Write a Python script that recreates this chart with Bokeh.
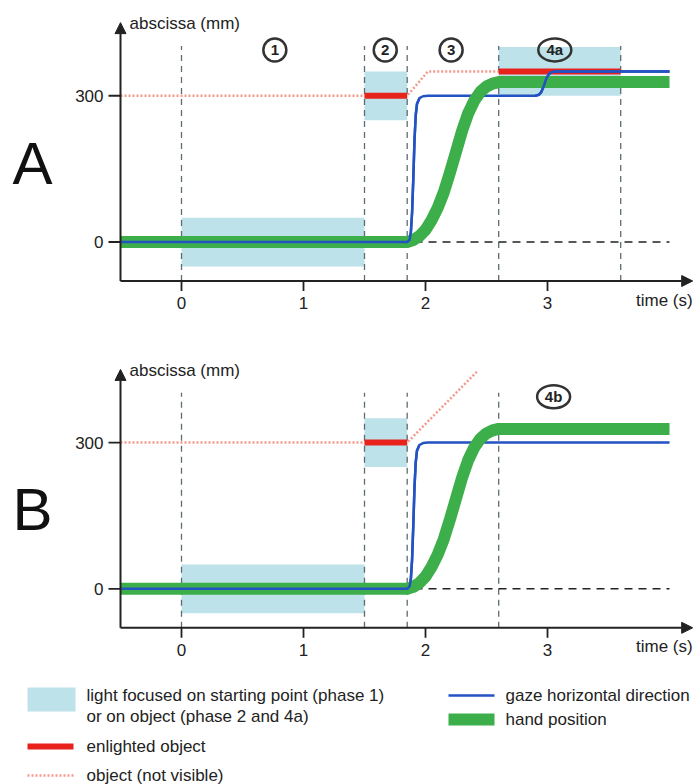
import numpy as np
from bokeh.plotting import figure
from bokeh.models import Range1d, Arrow, NormalHead
from bokeh.layouts import column
from bokeh.embed import file_html
from bokeh.resources import INLINE
from bokeh.core.properties import value

# ---------------- data ----------------
time_ticks = [0, 1, 2, 3]
time_tick_labels = ["0", "1", "2", "3"]
abscissa_ticks = [0, 300]
abscissa_tick_labels = ["0", "300"]

phase_lines_A = [0, 1.5, 1.85, 2.6, 3.6]
phase_lines_B = [0, 1.5, 1.85, 2.6]

light_left_A = [0, 1.5, 2.6]
light_right_A = [1.5, 1.85, 3.6]
light_bottom_A = [-50, 250, 300]
light_top_A = [50, 350, 400]
light_left_B = [0, 1.5]
light_right_B = [1.5, 1.85]
light_bottom_B = [-50, 250]
light_top_B = [50, 350]

lit_start_A = [1.5, 2.6]
lit_end_A = [1.85, 3.6]
lit_level_A = [300, 350]
lit_start_B = [1.5]
lit_end_B = [1.85]
lit_level_B = [300]

object_t_A = [-0.5, 1.85, 2.02, 4.0]
object_y_A = [300, 300, 350, 350]
object_t_B = [-0.5, 1.85, 2.42]
object_y_B = [300, 300, 445]

gaze_t_A = [-0.5, 1.85, 1.87, 1.88, 1.89, 1.90, 1.91, 1.92, 1.93, 1.95, 1.98, 2.02,
            2.90, 2.93, 2.95, 2.97, 2.99, 3.01, 3.03, 3.06, 4.0]
gaze_y_A = [0, 0, 5, 20, 60, 130, 210, 260, 283, 295, 299, 300,
            300, 302, 308, 320, 335, 344, 348, 350, 350]
gaze_t_B = [-0.5, 1.85, 1.87, 1.88, 1.89, 1.90, 1.91, 1.92, 1.93, 1.95, 1.98, 2.02, 4.0]
gaze_y_B = [0, 0, 5, 20, 60, 130, 210, 260, 283, 295, 299, 300, 300]

hand_t_A = [-0.5, 1.85, 1.90, 1.95, 2.00, 2.05, 2.10, 2.15, 2.20, 2.25, 2.30, 2.35,
            2.40, 2.45, 2.50, 2.55, 2.60, 4.0]
hand_y_A = [0, 0, 4, 12, 25, 45, 70, 102, 142, 185, 228, 264, 290, 308, 319, 325, 328, 328]
hand_t_B = [-0.5, 1.85, 1.90, 1.95, 2.00, 2.05, 2.10, 2.15, 2.20, 2.25, 2.30, 2.35,
            2.40, 2.45, 2.50, 2.55, 2.60, 4.0]
hand_y_B = [0, 0, 4, 12, 25, 45, 70, 102, 142, 185, 228, 264, 290, 308, 319, 325, 328, 328]

phase_labels_A = ["1", "2", "3", "4a"]
phase_label_t_A = [0.765, 1.67, 2.21, 3.06]
phase_labels_B = ["4b"]
phase_label_t_B = [3.05]

# ---------------- layout constants ----------------
W = 694
H_A = 338
H_B = 330
H_LEG = 116
PX_S = 122.0      # pixels per second
PX_MM = 0.4875    # pixels per mm
X0_PX = 181.0     # x pixel of t = 0
FONT = value("Liberation Sans")
TXT = "#222222"

T_MIN = -0.5
AXIS_Y = -80
T_END_AXIS = 4.19
Y_END_AXIS = 450
LABEL_Y = 394
DASH_TOP = 402
LETTER_Y = 162

C_LIGHT = "#bde2ea"
C_RED = "#e8231c"
C_OBJ = "#f4998a"
C_BLUE = "#2352c2"
C_GREEN = "#3caf4a"
C_PHASE = "#5d6c72"


def make_panel(height, zero_px, letter, light, lit, obj, gaze, hand, plines, labels):
    x_start = -X0_PX / PX_S
    x_end = (W - X0_PX) / PX_S
    y_end = zero_px / PX_MM
    y_start = -(height - zero_px) / PX_MM
    p = figure(width=W, height=height, output_backend="svg", toolbar_location=None,
               x_range=Range1d(x_start, x_end), y_range=Range1d(y_start, y_end),
               x_axis_location=None, y_axis_location=None, min_border=0,
               outline_line_color=None, background_fill_color="white",
               border_fill_color="white")
    p.grid.visible = False

    # light boxes
    p.quad(left=light[0], right=light[1], bottom=light[2], top=light[3],
           fill_color=C_LIGHT, line_color=None)

    # phase separators
    n = len(plines)
    p.segment(x0=plines, y0=[AXIS_Y] * n, x1=plines, y1=[DASH_TOP] * n,
              line_color=C_PHASE, line_width=1.3, line_dash="6 5")

    # zero reference
    p.line(x=[T_MIN, 4.0], y=[0, 0], line_color="#222222", line_width=1.4,
           line_dash="8 6")

    # object (not visible)
    p.line(x=obj[0], y=obj[1], line_color=C_OBJ, line_width=2.5, line_dash="2 2")

    # enlighted object
    p.segment(x0=lit[0], y0=lit[2], x1=lit[1], y1=lit[2], line_color=C_RED,
              line_width=6)

    gt = np.array(gaze[0])
    gy = np.array(gaze[1])
    # gaze under hand
    p.line(x=gt, y=gy, line_color=C_BLUE, line_width=2.5, line_join="round")
    # hand
    p.line(x=hand[0], y=hand[1], line_color=C_GREEN, line_width=12,
           line_join="round")
    # gaze parts on top of hand
    m1 = gt <= 1.95
    m2 = gt >= 2.6
    p.line(x=gt[m1], y=gy[m1], line_color=C_BLUE, line_width=2.5, line_join="round")
    if m2.any():
        p.line(x=gt[m2], y=gy[m2], line_color=C_BLUE, line_width=2.5,
               line_join="round")

    # axes
    head_len = 11
    p.add_layout(Arrow(end=NormalHead(size=head_len, fill_color="#222222",
                                      line_color="#222222"),
                       x_start=T_MIN, y_start=AXIS_Y, x_end=T_END_AXIS, y_end=AXIS_Y,
                       line_color="#222222", line_width=2))
    p.add_layout(Arrow(end=NormalHead(size=head_len, fill_color="#222222",
                                      line_color="#222222"),
                       x_start=T_MIN, y_start=AXIS_Y, x_end=T_MIN, y_end=Y_END_AXIS,
                       line_color="#222222", line_width=2))
    # x ticks
    nt = len(time_ticks)
    p.segment(x0=time_ticks, y0=[AXIS_Y] * nt, x1=time_ticks,
              y1=[AXIS_Y - 10 / PX_MM] * nt, line_color="#222222", line_width=1.8)
    p.text(x=time_ticks, y=[AXIS_Y - 22 / PX_MM] * nt, text=time_tick_labels,
           text_font=FONT, text_font_size="17px", text_align="center",
           text_baseline="middle", text_color=TXT)
    # y ticks
    na = len(abscissa_ticks)
    p.segment(x0=[T_MIN - 12 / PX_S] * na, y0=abscissa_ticks, x1=[T_MIN] * na,
              y1=abscissa_ticks, line_color="#222222", line_width=1.8)
    p.text(x=[T_MIN - 17 / PX_S] * na, y=abscissa_ticks, text=abscissa_tick_labels,
           text_font=FONT, text_font_size="17px", text_align="right",
           text_baseline="middle", text_color=TXT)
    # axis titles
    p.text(x=[T_MIN + 9 / PX_S], y=[Y_END_AXIS - 2], text=["abscissa (mm)"],
           text_font=FONT, text_font_size="17px", text_align="left",
           text_baseline="middle", text_color=TXT)
    p.text(x=[T_END_AXIS], y=[AXIS_Y - 19 / PX_MM], text=["time (s)"],
           text_font=FONT, text_font_size="17px", text_align="right",
           text_baseline="middle", text_color=TXT)

    # phase labels
    widths = [23 if len(s) == 1 else 33 for s in labels[0]]
    p.ellipse(x=labels[1], y=[LABEL_Y] * len(labels[0]), width=widths,
              height=[23] * len(labels[0]), width_units="screen",
              height_units="screen", fill_color=None, line_color="#333333",
              line_width=2.5)
    p.text(x=labels[1], y=[LABEL_Y] * len(labels[0]), text=labels[0],
           text_font=FONT, text_font_size="15px", text_font_style="bold",
           text_align="center", text_baseline="middle", text_color=TXT)

    # panel letter
    p.text(x=[-1.385], y=[LETTER_Y], text=[letter], text_font=FONT,
           text_font_size="60px", text_align="left", text_baseline="middle",
           text_color="#111111")
    return p


pA = make_panel(H_A, 241.5, "A",
                (light_left_A, light_right_A, light_bottom_A, light_top_A),
                (lit_start_A, lit_end_A, lit_level_A),
                (object_t_A, object_y_A), (gaze_t_A, gaze_y_A),
                (hand_t_A, hand_y_A), phase_lines_A,
                (phase_labels_A, phase_label_t_A))
pB = make_panel(H_B, 250.3, "B",
                (light_left_B, light_right_B, light_bottom_B, light_top_B),
                (lit_start_B, lit_end_B, lit_level_B),
                (object_t_B, object_y_B), (gaze_t_B, gaze_y_B),
                (hand_t_B, hand_y_B), phase_lines_B,
                (phase_labels_B, phase_label_t_B))

# ---------------- legend ----------------
pL = figure(width=W, height=H_LEG, output_backend="svg", toolbar_location=None,
            x_range=Range1d(0, W), y_range=Range1d(H_LEG, 0),
            x_axis_location=None, y_axis_location=None, min_border=0,
            outline_line_color=None, background_fill_color="white",
            border_fill_color="white")
pL.grid.visible = False

pL.quad(left=[27], right=[75], top=[19], bottom=[43], fill_color=C_LIGHT,
        line_color=None)
pL.segment(x0=[27], y0=[78], x1=[73], y1=[78], line_color=C_RED, line_width=6)
pL.segment(x0=[27], y0=[107], x1=[73], y1=[107], line_color=C_OBJ, line_width=2.5,
           line_dash="2 2")
pL.segment(x0=[448], y0=[27], x1=[494], y1=[27], line_color=C_BLUE, line_width=2.5)
pL.quad(left=[448], right=[494], top=[45], bottom=[57], fill_color=C_GREEN,
        line_color=None)

legend_texts = ["light focused on starting point (phase 1)",
                "or on object (phase 2 and 4a)",
                "enlighted object",
                "object (not visible)",
                "gaze horizontal direction",
                "hand position"]
pL.text(x=[86, 86, 86, 86, 505, 505], y=[27, 48, 78, 107, 27, 51],
        text=legend_texts, text_font=FONT, text_font_size="17px",
        text_align="left", text_baseline="middle", text_color=TXT)

layout = column(pA, pB, pL, spacing=0)
open("out.html", "w").write(file_html(layout, INLINE))
